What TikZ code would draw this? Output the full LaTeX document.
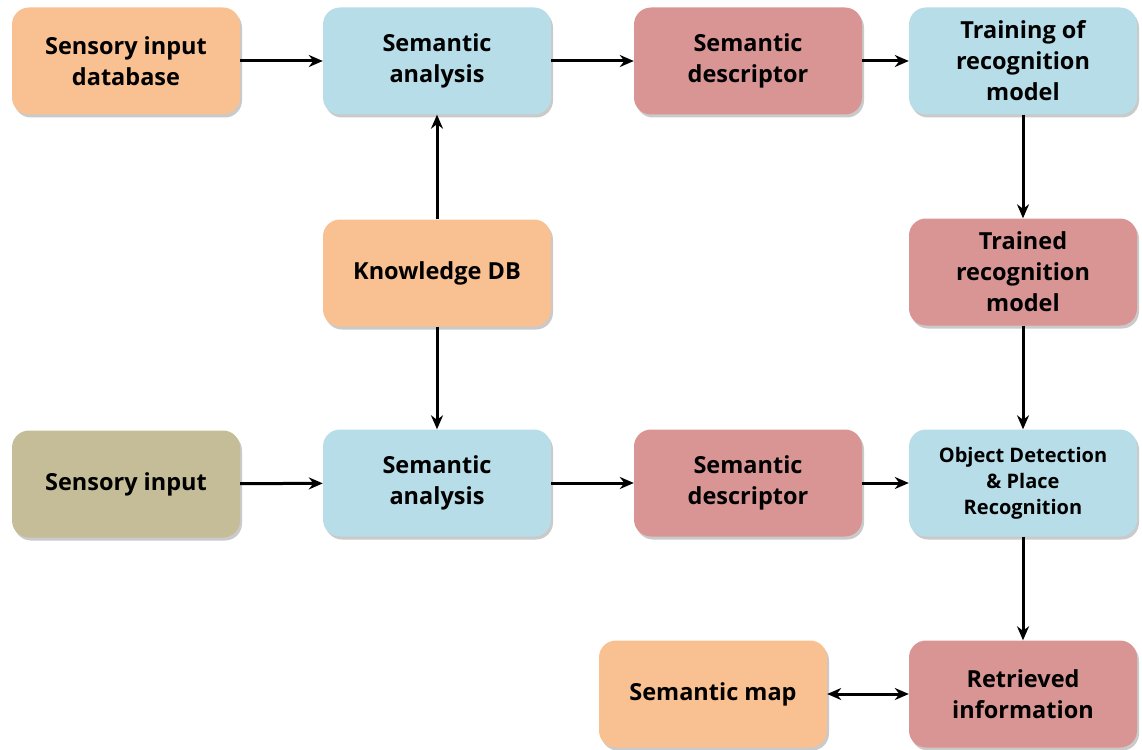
\documentclass[tikz,border=0pt]{standalone}
\usepackage{fontspec}
\setmainfont{Open Sans}
\usetikzlibrary{shadows,arrows.meta}
\definecolor{corange}{HTML}{F9C091}
\definecolor{cblue}{HTML}{B6DDE8}
\definecolor{cred}{HTML}{D99594}
\definecolor{colive}{HTML}{C4BD97}
\tikzset{
  box/.style={rounded corners=17pt, minimum width=228pt, minimum height=107pt, align=center,
    font=\fontsize{23.5}{31}\selectfont\bfseries, inner sep=0pt,
    drop shadow={shadow xshift=2pt, shadow yshift=-3pt, opacity=0.35, fill=black!60}},
  obox/.style={box, fill=corange},
  bbox/.style={box, fill=cblue},
  rbox/.style={box, fill=cred},
  gbox/.style={box, fill=colive},
  arr/.style={-{Stealth[length=14pt,width=12pt]}, line width=3pt, black},
  darr/.style={{Stealth[length=14pt,width=12pt]}-{Stealth[length=14pt,width=12pt]}, line width=3pt, black}
}
\begin{document}
\begin{tikzpicture}[x=1pt,y=-1pt]
\useasboundingbox (0,0) rectangle (1142,749);
\node[obox] (sid) at (126,61) {Sensory input\\database};
\node[bbox] (sa1) at (437,61) {Semantic\\analysis};
\node[rbox] (sd1) at (748,61) {Semantic\\descriptor};
\node[bbox] (trm) at (1023,61) {Training of\\recognition\\model};
\node[obox] (kdb) at (437,273) {Knowledge DB};
\node[rbox] (tdm) at (1023,272) {Trained\\recognition\\model};
\node[gbox] (si) at (126,484) {Sensory input};
\node[bbox] (sa2) at (437,483) {Semantic\\analysis};
\node[rbox] (sd2) at (748,483) {Semantic\\descriptor};
\node[bbox, font=\fontsize{20}{26}\selectfont\bfseries] (odp) at (1023,483) {Object Detection\\\& Place\\Recognition};
\node[obox] (sm) at (713,694) {Semantic map};
\node[rbox] (ri) at (1023,694) {Retrieved\\information};

\draw[arr] (sid) -- (sa1);
\draw[arr] (sa1) -- (sd1);
\draw[arr] (sd1) -- (trm);
\draw[arr] (trm) -- (tdm);
\draw[arr] (kdb) -- (sa1);
\draw[arr] (kdb) -- (sa2);
\draw[arr] (tdm) -- (odp);
\draw[arr] (si) -- (sa2);
\draw[arr] (sa2) -- (sd2);
\draw[arr] (sd2) -- (odp);
\draw[arr] (odp) -- (ri);
\draw[darr] (sm) -- (ri);
\end{tikzpicture}
\end{document}
